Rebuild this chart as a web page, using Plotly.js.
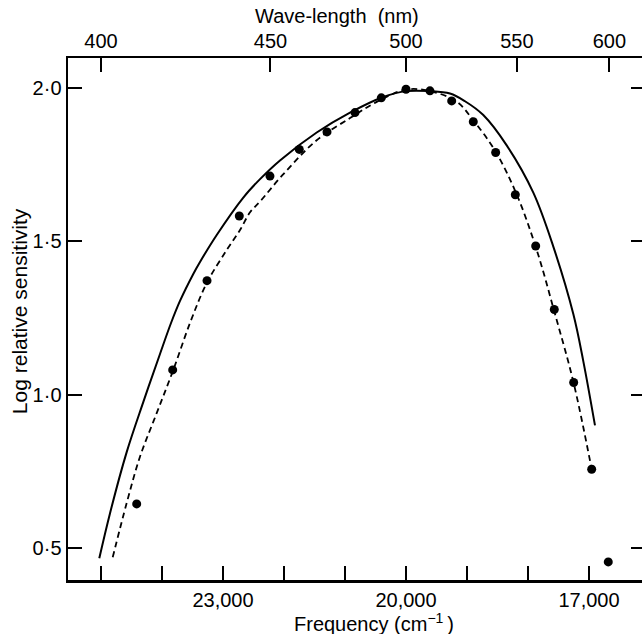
<!DOCTYPE html>
<html><head><meta charset="utf-8">
<script src="https://cdn.plot.ly/plotly-3.0.1.min.js"></script>
<style>html,body{margin:0;padding:0;overflow:hidden;background:#fff}</style>
</head><body><div id="chart"></div>
<script>
// measured points (frequency cm^-1, log relative sensitivity)
const pointFrequency = [24415, 23825, 23262, 22733, 22230, 21749, 21295, 20836, 20405, 20000, 19607, 19251, 18897, 18530, 18208, 17874, 17569, 17251, 16956, 16684];
const pointLogSensitivity = [0.644, 1.081, 1.372, 1.583, 1.713, 1.80, 1.857, 1.92, 1.968, 1.996, 1.991, 1.958, 1.89, 1.79, 1.652, 1.485, 1.278, 1.04, 0.757, 0.455];

// solid curve
const solidFrequency = [25028, 24852, 24579, 24307, 24033, 23852, 23705, 23487, 23377, 23103, 22667, 22393, 22066, 21464, 20918, 20372, 19989, 19607, 19279, 19033, 18733, 18349, 17913, 17585, 17257, 17093, 16902];
const solidLogSensitivity = [0.467, 0.614, 0.813, 0.976, 1.133, 1.234, 1.306, 1.394, 1.433, 1.521, 1.643, 1.703, 1.764, 1.855, 1.92, 1.971, 1.99, 1.99, 1.982, 1.957, 1.912, 1.813, 1.659, 1.483, 1.263, 1.109, 0.90];

// dashed curve
const dashedFrequency = [24808, 24579, 24361, 24087, 23815, 23541, 23267, 22939, 22721, 22557, 22393, 22030, 21464, 20918, 20480, 20000, 19607, 19169, 18897, 18541, 18185, 17857, 17557, 17257, 16956];
const dashedLogSensitivity = [0.47, 0.647, 0.798, 0.94, 1.081, 1.234, 1.364, 1.472, 1.537, 1.595, 1.63, 1.715, 1.83, 1.902, 1.955, 1.995, 1.99, 1.956, 1.895, 1.796, 1.653, 1.472, 1.263, 1.043, 0.757];

// ticks
const frequencyTickVals = [25000, 24000, 23000, 22000, 21000, 20000, 19000, 18000, 17000];
const frequencyTickText = ["", "", "23,000", "", "", "20,000", "", "", "17,000"];
const wavelengthTicksNm = [400, 450, 500, 550, 600];
const logTickVals = [0.5, 1.0, 1.5, 2.0];
const logTickText = ["0·5", "1·0", "1·5", "2·0"];

const xRange = [25541, 16082];
const yRange = [0.396, 2.098];
const FONT = "Liberation Sans, Arial, Helvetica, sans-serif";

const traces = [
  {x: solidFrequency, y: solidLogSensitivity, mode: "lines", type: "scatter",
   line: {color: "#000", width: 2, shape: "spline", smoothing: 1}, hoverinfo: "skip"},
  {x: dashedFrequency, y: dashedLogSensitivity, mode: "lines", type: "scatter",
   line: {color: "#000", width: 1.8, dash: "6px,4px", shape: "spline", smoothing: 1}, hoverinfo: "skip"},
  {x: pointFrequency, y: pointLogSensitivity, mode: "markers", type: "scatter",
   marker: {color: "#000", size: 9}},
  // anchors the top wavelength axis
  {x: [20000], y: [null], xaxis: "x2", mode: "markers", marker: {opacity: 0}, hoverinfo: "skip"}
];

const axisCommon = {
  autorange: false, tickmode: "array",
  ticks: "inside", ticklen: 14, tickwidth: 2, tickcolor: "#000",
  showline: true, linewidth: 2.5, linecolor: "#000",
  showgrid: false, zeroline: false,
  tickfont: {family: FONT, size: 20, color: "#000"}
};

const layout = {
  width: 650, height: 634,
  margin: {l: 68, r: 5, t: 58, b: 54},
  paper_bgcolor: "#fff", plot_bgcolor: "#fff",
  showlegend: false,
  font: {family: FONT, size: 20, color: "#000"},
  xaxis: Object.assign({}, axisCommon, {
    range: xRange, tickvals: frequencyTickVals, ticktext: frequencyTickText, mirror: false
  }),
  xaxis2: Object.assign({}, axisCommon, {
    overlaying: "x", side: "top", anchor: "y", range: xRange,
    tickvals: wavelengthTicksNm.map(w => 1e7 / w), ticktext: wavelengthTicksNm.map(String)
  }),
  yaxis: Object.assign({}, axisCommon, {
    range: yRange, tickvals: logTickVals, ticktext: logTickText, mirror: "ticks"
  }),
  annotations: [
    {text: "Wave-length\u00a0\u00a0(nm)", xref: "paper", yref: "paper", x: 0.466, y: 1.0805,
     xanchor: "center", yanchor: "middle", showarrow: false,
     font: {family: FONT, size: 20, color: "#000"}},
    {text: "Frequency (cm<sup>−1</sup>\u2009)", xref: "paper", yref: "paper", x: 0.530, y: -0.082,
     xanchor: "center", yanchor: "middle", showarrow: false,
     font: {family: FONT, size: 20, color: "#000"}},
    {text: "Log relative sensitivity", xref: "paper", yref: "paper", x: -0.085, y: 0.515,
     xanchor: "center", yanchor: "middle", showarrow: false, textangle: -90,
     font: {family: FONT, size: 21, color: "#000"}}
  ]
};

Plotly.newPlot("chart", traces, layout, {staticPlot: true, displayModeBar: false});
</script>
</body></html>
